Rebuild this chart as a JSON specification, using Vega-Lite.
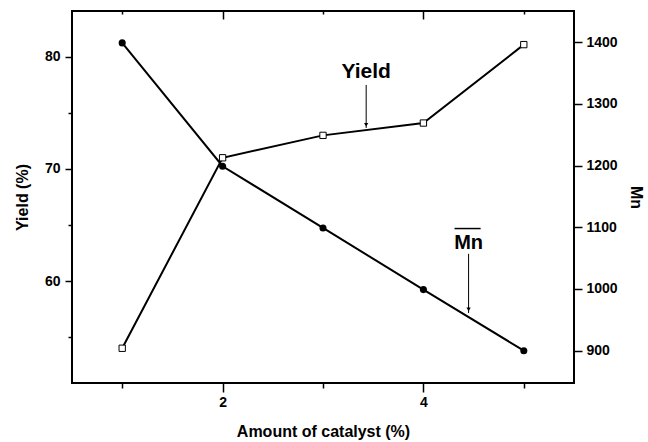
{
  "$schema": "https://vega.github.io/schema/vega-lite/v6.json",
  "width": 502,
  "height": 372,
  "autosize": "none",
  "padding": {"left": 72, "top": 11, "right": 74, "bottom": 59},
  "background": "white",
  "config": {
    "view": {"stroke": "black", "strokeWidth": 2},
    "font": "Liberation Sans",
    "axis": {
      "grid": false,
      "domain": false,
      "tickColor": "black",
      "tickWidth": 1.5,
      "labelColor": "black",
      "labelFont": "Liberation Sans",
      "labelFontWeight": "bold",
      "labelFontSize": 14,
      "titleFont": "Liberation Sans",
      "titleFontWeight": "bold",
      "titleFontSize": 16,
      "titleColor": "black"
    }
  },
  "datasets": {
    "main": [
      {"x": 1, "yield": 54.0, "mn": 1399},
      {"x": 2, "yield": 71.0, "mn": 1199},
      {"x": 3, "yield": 73.0, "mn": 1099},
      {"x": 4, "yield": 74.1, "mn": 999},
      {"x": 5, "yield": 81.1, "mn": 900}
    ],
    "yieldNote": [
      {"label": "Yield", "x": 3.43, "ytext": 78.7, "ytop": 77.5, "ybot": 73.66, "yhead": 73.95}
    ],
    "mnNote": [
      {"label": "Mn", "x": 4.45, "x1": 4.31, "x2": 4.57, "ytext": 1075, "yover": 1098, "ytop": 1057, "ybot": 961, "yhead": 967}
    ]
  },
  "layer": [
    {
      "layer": [
        {
          "data": {"name": "main"},
          "mark": {"type": "line", "color": "black", "strokeWidth": 2},
          "encoding": {
            "x": {"field": "x", "type": "quantitative", "scale": {"domain": [0.5, 5.5], "nice": false, "zero": false},
              "axis": {"orient": "bottom", "title": "Amount of catalyst (%)", "values": [1, 2, 3, 4, 5], "format": "d",
                "labelExpr": "datum.value % 2 === 0 ? datum.label : ''",
                "tickSize": {"expr": "datum.value % 2 === 0 ? 9 : 5"},
                "labelPadding": 3, "titlePadding": 14}},
            "y": {"field": "yield", "type": "quantitative", "scale": {"domain": [50.9, 84.1], "nice": false, "zero": false},
              "axis": {"orient": "left", "title": "Yield (%)", "values": [55, 60, 65, 70, 75, 80],
                "labelExpr": "datum.value % 10 === 0 ? datum.label : ''",
                "tickSize": {"expr": "datum.value % 10 === 0 ? 7 : 4"},
                "labelPadding": 5, "titlePadding": 14}}
          }
        },
        {
          "data": {"name": "main"},
          "mark": {"type": "point", "shape": "square", "filled": true, "fill": "white", "stroke": "black", "strokeWidth": 1, "size": 40, "opacity": 1},
          "encoding": {
            "x": {"field": "x", "type": "quantitative"},
            "y": {"field": "yield", "type": "quantitative"}
          }
        },
        {
          "data": {"name": "yieldNote"},
          "mark": {"type": "rule", "color": "black", "strokeWidth": 1},
          "encoding": {
            "x": {"field": "x", "type": "quantitative"},
            "y": {"field": "ytop", "type": "quantitative"},
            "y2": {"field": "ybot"}
          }
        },
        {
          "data": {"name": "yieldNote"},
          "mark": {"type": "point", "shape": "triangle-down", "filled": true, "color": "black", "size": 18, "opacity": 1},
          "encoding": {
            "x": {"field": "x", "type": "quantitative"},
            "y": {"field": "yhead", "type": "quantitative"}
          }
        },
        {
          "data": {"name": "yieldNote"},
          "mark": {"type": "text", "font": "Liberation Sans", "fontWeight": "bold", "fontSize": 21, "color": "black", "baseline": "middle", "align": "center"},
          "encoding": {
            "x": {"field": "x", "type": "quantitative"},
            "y": {"field": "ytext", "type": "quantitative"},
            "text": {"field": "label"}
          }
        }
      ]
    },
    {
      "layer": [
        {
          "data": {"name": "main"},
          "mark": {"type": "line", "color": "black", "strokeWidth": 2},
          "encoding": {
            "x": {"field": "x", "type": "quantitative", "scale": {"domain": [0.5, 5.5], "nice": false, "zero": false},
              "axis": {"orient": "top", "title": null, "labels": false, "values": [1, 2, 3, 4, 5], "domain": false,
                "tickSize": {"expr": "datum.value % 2 === 0 ? -8 : -3"}}},
            "y": {"field": "mn", "type": "quantitative", "scale": {"domain": [847.6, 1450.7], "nice": false, "zero": false},
              "axis": {"orient": "right", "title": "Mn", "values": [900, 950, 1000, 1050, 1100, 1150, 1200, 1250, 1300, 1350, 1400],
                "labelExpr": "datum.value % 100 === 0 ? datum.label : ''",
                "format": "d",
                "tickSize": {"expr": "datum.value % 100 === 0 ? 8 : 4"},
                "labelPadding": 4, "titlePadding": 10}}
          }
        },
        {
          "data": {"name": "main"},
          "mark": {"type": "point", "shape": "circle", "filled": true, "color": "black", "size": 50, "opacity": 1},
          "encoding": {
            "x": {"field": "x", "type": "quantitative", "axis": {"orient": "top"}},
            "y": {"field": "mn", "type": "quantitative"}
          }
        },
        {
          "data": {"name": "mnNote"},
          "mark": {"type": "rule", "color": "black", "strokeWidth": 1},
          "encoding": {
            "x": {"field": "x", "type": "quantitative", "axis": {"orient": "top"}},
            "y": {"field": "ytop", "type": "quantitative"},
            "y2": {"field": "ybot"}
          }
        },
        {
          "data": {"name": "mnNote"},
          "mark": {"type": "point", "shape": "triangle-down", "filled": true, "color": "black", "size": 18, "opacity": 1},
          "encoding": {
            "x": {"field": "x", "type": "quantitative", "axis": {"orient": "top"}},
            "y": {"field": "yhead", "type": "quantitative"}
          }
        },
        {
          "data": {"name": "mnNote"},
          "mark": {"type": "rule", "color": "black", "strokeWidth": 1.5},
          "encoding": {
            "x": {"field": "x1", "type": "quantitative", "axis": {"orient": "top"}},
            "x2": {"field": "x2"},
            "y": {"field": "yover", "type": "quantitative"}
          }
        },
        {
          "data": {"name": "mnNote"},
          "mark": {"type": "text", "font": "Liberation Sans", "fontWeight": "bold", "fontSize": 20, "color": "black", "baseline": "middle", "align": "center"},
          "encoding": {
            "x": {"field": "x", "type": "quantitative", "axis": {"orient": "top"}},
            "y": {"field": "ytext", "type": "quantitative"},
            "text": {"field": "label"}
          }
        }
      ]
    }
  ],
  "resolve": {"scale": {"x": "independent", "y": "independent"}, "axis": {"x": "independent", "y": "independent"}}
}
